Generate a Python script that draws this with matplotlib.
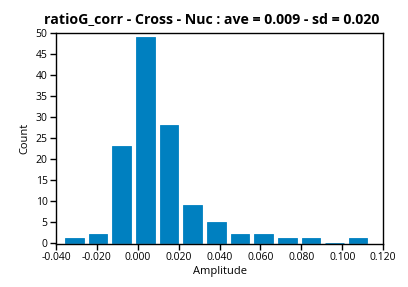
import matplotlib
matplotlib.use('Agg')
import matplotlib.pyplot as plt

# histogram bins (centres) and counts
centers = [-0.0310, -0.0194, -0.0079, 0.0037, 0.0153, 0.0268, 0.0384,
           0.0500, 0.0615, 0.0731, 0.0847, 0.0962, 0.1078]
counts = [1, 2, 23, 49, 28, 9, 5, 2, 2, 1, 1, 0, 1]
xticks = [-0.04, -0.02, 0.0, 0.02, 0.04, 0.06, 0.08, 0.10, 0.12]
yticks = [0, 5, 10, 15, 20, 25, 30, 35, 40, 45, 50]

plt.rcParams['font.family'] = ['Open Sans', 'DejaVu Sans']

fig = plt.figure(figsize=(4.08, 2.87), dpi=100)
ax = fig.add_axes([0.137, 0.150, 0.802, 0.735])

ax.bar(centers, counts, width=0.0091, color='#0080c0',
       edgecolor='#0080c0', linewidth=0.6)

ax.set_xlim(-0.04, 0.12)
ax.set_ylim(-0.3, 50)
ax.set_xticks(xticks)
ax.set_xticklabels(['%.3f' % t for t in xticks])
ax.set_yticks(yticks)
ax.tick_params(direction='out', length=4, width=1, labelsize=7.5, pad=2)
for s in ax.spines.values():
    s.set_linewidth(1)

ax.set_xlabel('Amplitude', fontsize=8, labelpad=2)
ax.set_ylabel('Count', fontsize=8, labelpad=4)
ax.set_title('ratioG_corr - Cross - Nuc : ave = 0.009 - sd = 0.020',
             fontsize=10.2, fontweight='bold', pad=7, x=0.477)

fig.savefig('out.png', dpi=100)
